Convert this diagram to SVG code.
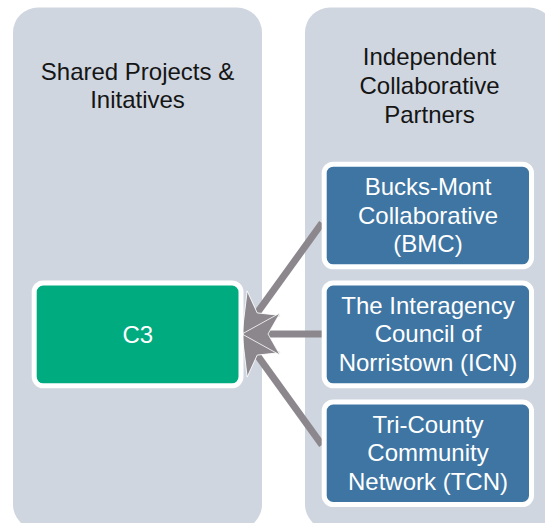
<svg xmlns="http://www.w3.org/2000/svg" width="545" height="523" viewBox="0 0 545 523">
  <defs>
    <style>
      .panel { fill: #CFD6E0; }
      .title { font-family: "Liberation Sans", Arial, sans-serif; font-size: 24px; fill: #151515; text-anchor: middle; }
      .box { stroke: #FFFFFF; stroke-width: 5; }
      .green { fill: #00AB80; }
      .blue { fill: #3E75A2; }
      .label { font-family: "Liberation Sans", Arial, sans-serif; font-size: 24px; fill: #FFFFFF; text-anchor: middle; }
      .conn { stroke: #8C878D; stroke-width: 7; fill: none; marker-end: url(#head); }
    </style>
    <marker id="head" markerUnits="userSpaceOnUse" viewBox="-2 -24 44 48" refX="38" refY="0" markerWidth="44" markerHeight="48" orient="auto" overflow="visible">
      <path d="M0,-21 L38,0 L0,21 L12,0 Z" fill="#8C878D" stroke="#FFFFFF" stroke-width="0.8" stroke-linejoin="miter"/>
    </marker>
  </defs>

  <g id="panel-shared">
    <rect class="panel" x="13" y="7.5" width="249" height="522" rx="25" ry="25"/>
    <text class="title" x="137.5" y="80">Shared Projects &amp;</text>
    <text class="title" x="137.5" y="107.5">Initatives</text>
  </g>

  <g id="panel-partners">
    <rect class="panel" x="305" y="7.5" width="249" height="522" rx="25" ry="25"/>
    <text class="title" x="429.5" y="65">Independent</text>
    <text class="title" x="429.5" y="94">Collaborative</text>
    <text class="title" x="429.5" y="123">Partners</text>
  </g>

  <g id="connectors">
    <path class="conn" d="M322,223 L242,334"/>
    <path class="conn" d="M322,445 L242,334"/>
    <path class="conn" d="M322,334 L242,334"/>
  </g>

  <g id="node-c3">
    <rect class="box green" x="34.2" y="283" width="206.8" height="102.8" rx="9" ry="9"/>
    <text class="label" x="137.8" y="342.5">C3</text>
  </g>

  <g id="node-bmc">
    <rect class="box blue" x="324.2" y="164.2" width="207.3" height="102.6" rx="9" ry="9"/>
    <text class="label" x="428" y="195">Bucks-Mont</text>
    <text class="label" x="428" y="223.5">Collaborative</text>
    <text class="label" x="428" y="252">(BMC)</text>
  </g>

  <g id="node-icn">
    <rect class="box blue" x="324.2" y="283" width="207.3" height="102.8" rx="9" ry="9"/>
    <text class="label" x="428" y="313.5">The Interagency</text>
    <text class="label" x="428" y="342">Council of</text>
    <text class="label" x="428" y="370.5">Norristown (ICN)</text>
  </g>

  <g id="node-tcn">
    <rect class="box blue" x="324.2" y="402" width="207.3" height="102.5" rx="9" ry="9"/>
    <text class="label" x="428" y="432.5">Tri-County</text>
    <text class="label" x="428" y="461">Community</text>
    <text class="label" x="428" y="489.5">Network (TCN)</text>
  </g>
</svg>
